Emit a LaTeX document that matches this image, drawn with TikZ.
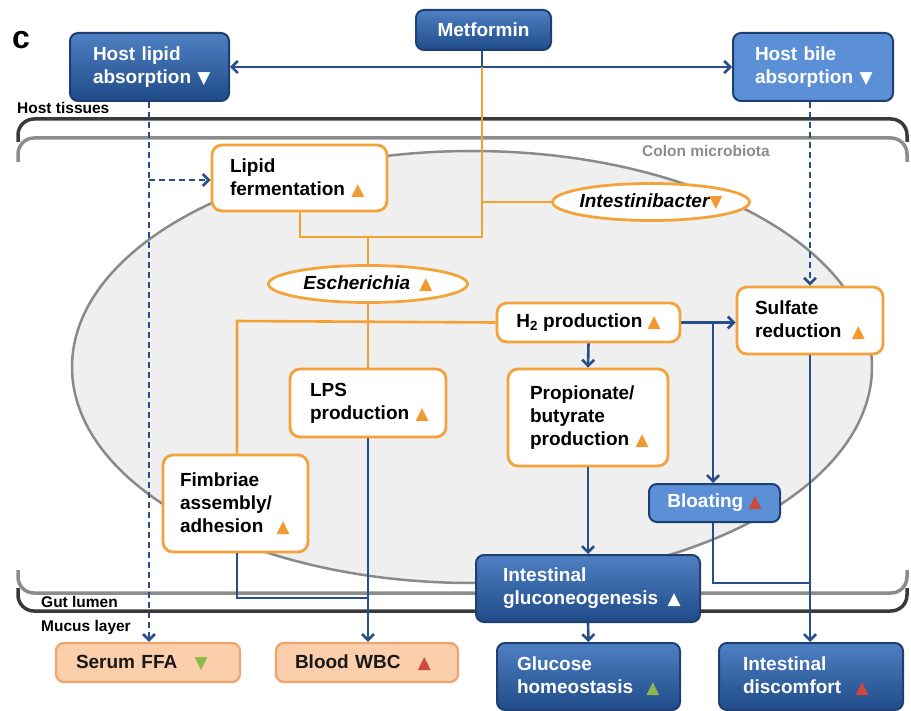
\documentclass[tikz,border=0pt]{standalone}
\usepackage{fontspec}
\setmainfont{Liberation Sans}
\newfontfamily\symf{DejaVu Sans}
\usetikzlibrary{arrows.meta,shapes.geometric}
\definecolor{dbTop}{HTML}{4F80C3}
\definecolor{dbBot}{HTML}{1F4B88}
\definecolor{bordB}{HTML}{1E3F72}
\definecolor{lblue}{HTML}{5B8FD6}
\definecolor{orB}{HTML}{F4A23A}
\definecolor{orL}{HTML}{F5A033}
\definecolor{peach}{HTML}{FBCFAB}
\definecolor{peachB}{HTML}{F0A46E}
\definecolor{lineB}{HTML}{254E8A}
\definecolor{triO}{HTML}{F39A2E}
\definecolor{triR}{HTML}{CF4A3C}
\definecolor{triG}{HTML}{8DB84C}
\definecolor{tisD}{HTML}{3A3A3A}
\definecolor{tisG}{HTML}{8C8C8C}
\definecolor{ellF}{HTML}{EFEFEF}
\definecolor{ellD}{HTML}{8A8A8A}
\newcommand\triU[1]{{\fontsize{17}{17}\symf\textcolor{#1}{▲}}}
\newcommand\triD[1]{{\fontsize{17}{17}\symf\textcolor{#1}{▼}}}
\tikzset{
  boxfont/.style={font=\fontsize{19}{23}\selectfont\bfseries},
  lblfont/.style={font=\fontsize{15.5}{18}\selectfont\bfseries},
  dbox/.style={boxfont, draw=bordB, line width=2pt, rounded corners=8pt,
    top color=dbTop, bottom color=dbBot, text=white, inner sep=0pt, align=left},
  lbox/.style={boxfont, draw=bordB, line width=2pt, rounded corners=8pt,
    fill=lblue, text=white, inner sep=0pt, align=left},
  obox/.style={boxfont, draw=orB, line width=2.8pt, rounded corners=10pt,
    fill=white, text=black, inner sep=0pt, align=left},
  pbox/.style={boxfont, draw=peachB, line width=2.3pt, rounded corners=8pt,
    fill=peach, text=black!90, inner sep=0pt, align=left},
  oell/.style={boxfont, ellipse, draw=orB, line width=2.8pt, fill=white,
    text=black, inner sep=0pt},
  bl/.style={draw=lineB, line width=2.6pt},
  ol/.style={draw=orL, line width=2.6pt},
  arr/.style={-{Straight Barb[length=6pt,width=12pt]}},
  darr/.style={{Straight Barb[length=6pt,width=12pt]}-{Straight Barb[length=6pt,width=12pt]}},
  dsh/.style={dash pattern=on 6pt off 4pt},
  tisdark/.style={draw=tisD, line width=3.5pt, rounded corners=16pt},
  tisgray/.style={draw=tisG, line width=3.5pt, rounded corners=16pt},
}
\begin{document}
\begin{tikzpicture}[x=1pt,y=-1pt]
\useasboundingbox (0,0) rectangle (911,711);
% tissue boundaries
\draw[tisdark] (18,142) -- (18,119) -- (907,119) -- (907,142);
\draw[tisgray] (18,162) -- (18,138) -- (907,138) -- (907,162);
\draw[tisgray] (18,570) -- (18,593) -- (907,593) -- (907,570);
\draw[tisdark] (18,588) -- (18,611) -- (907,611) -- (907,588);
% colon microbiota region
\draw[draw=ellD, fill=ellF, line width=2.5pt] (472pt,-367pt) ellipse [x radius=400pt, y radius=216pt];
% labels
\node[font=\fontsize{32}{32}\selectfont\bfseries, anchor=base west, inner sep=0pt] (lblc) at (12,49) {c};
\node[lblfont, anchor=base west, inner sep=0pt] (lbltis) at (17,114) {Host tissues};
\node[lblfont, anchor=base west, inner sep=0pt] (lblgut) at (41,607) {Gut lumen};
\node[lblfont, anchor=base west, inner sep=0pt] (lblmuc) at (41,631) {Mucus layer};
\node[lblfont, anchor=base west, inner sep=0pt, text=tisG] (lblcol) at (642,157) {Colon microbiota};
% nodes
\node[dbox, minimum width=135pt, minimum height=40pt, align=center] (met) at (483.5,30) {Metformin};
\node[dbox, minimum width=159pt, minimum height=68pt, text width=113pt] (hla) at (149.5,67) {Host lipid\\absorption~\triD{white}};
\node[lbox, minimum width=160pt, minimum height=68pt, text width=116pt] (hba) at (813,67) {Host bile\\absorption~\triD{white}};
\node[obox, minimum width=175pt, minimum height=66pt, text width=139pt] (lf) at (299.5,178) {Lipid\\fermentation~\triU{triO}};
\node[oell, minimum width=197pt, minimum height=37pt] (ib) at (651,202) {\makebox[0pt]{\itshape Intestinibacter\triD{triO}}};
\node[oell, minimum width=199pt, minimum height=37pt] (es) at (368,284) {\makebox[0pt]{\itshape Escherichia~\hspace{4pt}\upshape\triU{triO}}};
\node[obox, minimum width=183pt, minimum height=39pt, align=center] (h2) at (588.5,322.5) {H\textsubscript{2} production~\triU{triO}};
\node[obox, minimum width=146pt, minimum height=67pt, text width=110pt] (sr) at (810,320.5) {Sulfate\\reduction~\hspace{4pt}\triU{triO}};
\node[obox, minimum width=156pt, minimum height=68pt, text width=116pt] (lps) at (368,403) {LPS\\production~\triU{triO}};
\node[obox, minimum width=160pt, minimum height=97pt, text width=116pt] (pb) at (588,417.5) {Propionate/\\butyrate\\production~\triU{triO}};
\node[obox, minimum width=145pt, minimum height=97pt, text width=111pt] (fa) at (235.5,503.5) {Fimbriae\\assembly/\\adhesion~\hspace{7pt}\triU{triO}};
\node[lbox, minimum width=131pt, minimum height=38pt, align=center] (bl) at (714.5,503) {Bloating~\triU{triR}};
\node[dbox, minimum width=224pt, minimum height=67pt, text width=170pt] (ig) at (588,588.5) {Intestinal\\gluconeogenesis~\hspace{3pt}\triU{white}};
\node[pbox, minimum width=184pt, minimum height=39pt, text width=144pt] (sf) at (148,662.5) {Serum FFA~\hspace{11pt}\triD{triG}};
\node[pbox, minimum width=182pt, minimum height=39pt, text width=144pt] (bw) at (367,662.5) {Blood WBC~\hspace{11pt}\triU{triR}};
\node[dbox, minimum width=183pt, minimum height=67pt, text width=143pt] (gh) at (588.5,676.5) {Glucose\\homeostasis~\hspace{7pt}\triU{triG}};
\node[dbox, minimum width=184pt, minimum height=67pt, text width=136pt] (id) at (811,676.5) {Intestinal\\discomfort~\hspace{8pt}\triU{triR}};
% coordinates
\coordinate (mj) at (482,67);
\coordinate (oj) at (482,237);
\coordinate (lfj) at (300,237);
\coordinate (ibj) at (482,202);
\coordinate (esj) at (368,237);
\coordinate (fj) at (237,321);
\coordinate (bj) at (713,321);
\coordinate (blj) at (713,583);
\coordinate (idj) at (810,583);
\coordinate (faj) at (237,598);
\coordinate (bwj) at (368,598);
\coordinate (lfa) at (149,180);
% connectors
\draw[bl, darr] (hla.east) -- (hba.west);
\draw[bl] (met.south -| mj) -- (mj);
\draw[ol] (mj) -- (oj) -- (lfj) -- (lf.south -| lfj);
\draw[ol] (ibj) -- (ib.west);
\draw[ol] (es.north) -- (esj);
\draw[ol] (es.south) -- (lps.north);
\draw[ol] (h2.west) -- (fj) -- (fa.north -| fj);
\draw[bl, arr] (h2.east) -- (sr.west |- h2.east);
\draw[bl, arr] (bj) -- (bl.north -| bj);
\draw[bl, arr] (h2.south) -- (pb.north);
\draw[bl, arr] (pb.south) -- (ig.north);
\draw[bl, arr] (ig.south) -- (gh.north);
\draw[bl, arr] (sr.south) -- (sr.south |- id.north);
\draw[bl] (bl.south -| blj) -- (blj) -- (idj);
\draw[bl, dsh, arr] (hba.south -| sr.north) -- (sr.north);
\draw[bl, dsh, arr] (hla.south -| lfa) -- (sf.north -| lfa);
\draw[bl, dsh, arr] (lfa) -- (lf.west |- lfa);
\draw[bl, arr] (lps.south) -- (lps.south |- bw.north);
\draw[bl] (fa.south -| faj) -- (faj) -- (bwj);
\end{tikzpicture}
\end{document}
